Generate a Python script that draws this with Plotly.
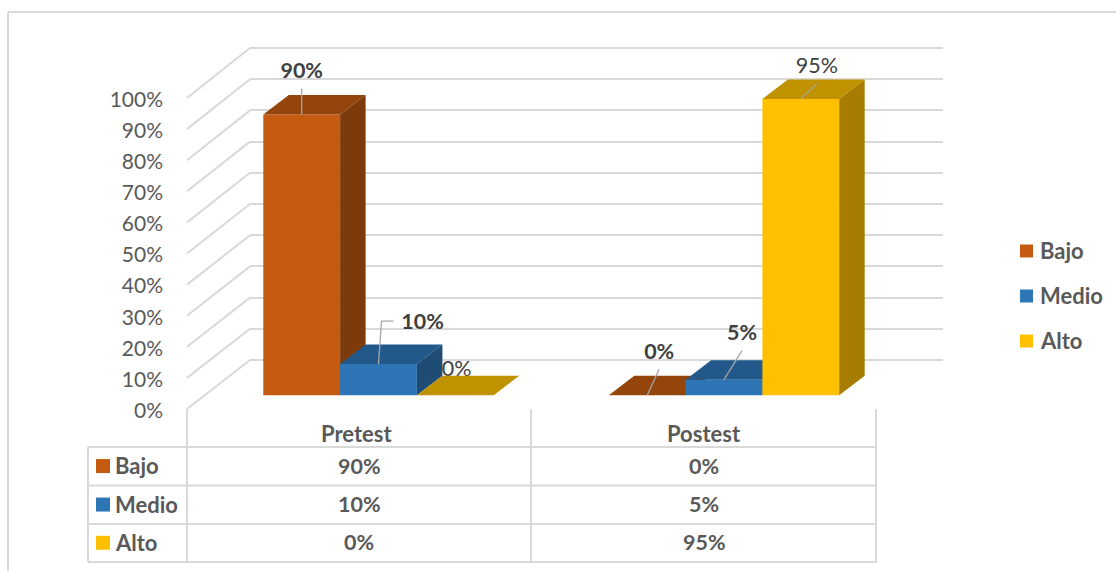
import plotly.graph_objects as go

# ---- data ----
categories = ["Pretest", "Postest"]
series_names = ["Bajo", "Medio", "Alto"]
bajo = [90, 0]
medio = [10, 5]
alto = [0, 95]
axis_ticks = [0, 10, 20, 30, 40, 50, 60, 70, 80, 90, 100]

# ---- styles ----
W, H = 1116, 571
FONT = "Lato"
GRID = "#D9D9D9"
LABEL = "#404040"
TEXT = "#595959"
front = ["#C55A11", "#2E75B6", "#FFC000"]
top_c = ["#93450C", "#22598A", "#C19200"]
side_c = ["#7D3A0A", "#1E4C75", "#A67D00"]
series = [bajo, medio, alto]

PX_PER_GROUP = 345.5
GROUP0_PX = 378.5
PX_PER_PCT = 3.12
BASE_PX = 395.3
BAR_W = 76.8 / PX_PER_GROUP
DX = 25.5 / PX_PER_GROUP
DY = 19.5 / PX_PER_PCT
LABEL_SIZE = 21.5
NAME_SIZE = 22

def px(x):
    return x / W

def py(y):
    return 1 - y / H

def val_range(zero_px, scale):
    return [(zero_px - H) / scale, zero_px / scale]

x_bar_range = [(0 - GROUP0_PX) / PX_PER_GROUP, (W - GROUP0_PX) / PX_PER_GROUP]
y_bar_range = val_range(BASE_PX, PX_PER_PCT)

fig = go.Figure()

# back-wall gridlines subplot (drawn first)
fig.add_trace(go.Scatter(x=[0], y=[0], mode="markers", marker=dict(opacity=0),
                         xaxis="x", yaxis="y", showlegend=False, hoverinfo="skip"))
# tick-label axis
fig.add_trace(go.Scatter(x=[0], y=[0], mode="markers", marker=dict(opacity=0),
                         xaxis="x", yaxis="y5", showlegend=False, hoverinfo="skip"))

for s, (name, vals) in enumerate(zip(series_names, series)):
    ax = s + 2
    xa, ya = f"x{ax}", f"y{ax}"
    off = (s - 1.5) * BAR_W
    tops_x, tops_y, sides_x, sides_y = [], [], [], []
    for i, v in enumerate(vals):
        l = i + off
        r = l + BAR_W
        tops_x += [l, r, r + DX, l + DX, l, None]
        tops_y += [v, v, v + DY, v + DY, v, None]
        sides_x += [r, r + DX, r + DX, r, r, None]
        sides_y += [0, DY, v + DY, v, 0, None]
    fig.add_trace(go.Bar(x=list(range(len(vals))), y=vals, width=BAR_W, offset=off,
                         marker=dict(color=front[s], line=dict(width=0)), name=name,
                         xaxis=xa, yaxis=ya, showlegend=False))
    fig.add_trace(go.Scatter(x=tops_x, y=tops_y, mode="lines", fill="toself",
                             fillcolor=top_c[s], line=dict(width=0, color=top_c[s]),
                             xaxis=xa, yaxis=ya, showlegend=False, hoverinfo="skip"))
    fig.add_trace(go.Scatter(x=sides_x, y=sides_y, mode="lines", fill="toself",
                             fillcolor=side_c[s], line=dict(width=0, color=side_c[s]),
                             xaxis=xa, yaxis=ya, showlegend=False, hoverinfo="skip"))
    if s == 0:
        # the Pretest "Alto" label sits behind the Medio block, as in the reference
        fig.add_trace(go.Scatter(x=[0 + 0.5 * BAR_W + 0.115], y=[alto[0] + 8.0], mode="text",
                                 text=[f"{alto[0]}%"], textposition="middle center",
                                 textfont=dict(family=FONT, size=LABEL_SIZE, color=LABEL),
                                 xaxis=xa, yaxis=ya, showlegend=False, hoverinfo="skip"))

# data labels and their leader lines: offsets (px) from each bar's top-front centre
label_spec = [
    (0, 0, 0, -42, True, [(0, 0), (0, -26)]),
    (1, 0, 44, -40, True, [(0, 0), (3, -43), (15, -43)]),
    (0, 1, 12, -42, True, [(0, 0), (12, -26)]),
    (1, 1, 18, -45, True, [(0, 0), (18, -29)]),
    (2, 1, 16, -31.5, False, [(0, 0), (16, -15)]),
]
LAST = "4"
for s, i, lx, ly, bold, path in label_spec:
    v = series[s][i]
    cx = i + (s - 1.5) * BAR_W + BAR_W / 2
    lead_x = [cx + p[0] / PX_PER_GROUP for p in path]
    lead_y = [v - p[1] / PX_PER_PCT for p in path]
    fig.add_trace(go.Scatter(x=lead_x, y=lead_y, mode="lines",
                             line=dict(color="#A6A6A6", width=1.3),
                             xaxis="x" + LAST, yaxis="y" + LAST, showlegend=False, hoverinfo="skip"))
    fig.add_trace(go.Scatter(x=[cx + lx / PX_PER_GROUP], y=[v - ly / PX_PER_PCT], mode="text",
                             text=[f"<b>{v}%</b>" if bold else f"{v}%"],
                             textposition="middle center",
                             textfont=dict(family=FONT, size=LABEL_SIZE, color=LABEL),
                             xaxis="x" + LAST, yaxis="y" + LAST, showlegend=False, hoverinfo="skip"))

shapes, annotations = [], []

def line(x0, y0, x1, y1, w=2):
    shapes.append(dict(type="line", xref="paper", yref="paper", x0=px(x0), y0=py(y0),
                       x1=px(x1), y1=py(y1), line=dict(color=GRID, width=w), layer="below"))

def square(x0, y0, size, color):
    shapes.append(dict(type="rect", xref="paper", yref="paper", x0=px(x0), y0=py(y0),
                       x1=px(x0 + size), y1=py(y0 + size), fillcolor=color,
                       line=dict(width=0), layer="above"))

def text(x, y, s, anchor="center", size=LABEL_SIZE):
    annotations.append(dict(xref="paper", yref="paper", x=px(x), y=py(y), showarrow=False,
                            text=f"<b>{s}</b>", xanchor=anchor, yanchor="middle",
                            font=dict(family=FONT, size=size, color=TEXT)))

# outer frame
line(8, 12, W, 12)
line(8, 12, 8, H)

# left wall
for t in axis_ticks:
    line(187, 409 - 3.11 * t, 250, 360 - PX_PER_PCT * t)

# data table
COL_X = [187, 531, 876]
ROW_Y = [447, 485.5, 524, 562]
for y in ROW_Y:
    line(88, y, 877, y)
line(88, 447, 88, 562)
for x in COL_X:
    line(x, 409, x, 562)
COL_MID = [359, 704]
HEAD_MID = [356.5, 704]
for c, name in enumerate(categories):
    text(HEAD_MID[c], 433, name, size=NAME_SIZE)
for s, name in enumerate(series_names):
    y_mid = (ROW_Y[s] + ROW_Y[s + 1]) / 2 - 0.7
    square(96, y_mid - 6.5, 14, front[s])
    text(113, y_mid, name, anchor="left", size=NAME_SIZE)
    for c in range(len(categories)):
        text(COL_MID[c], y_mid, f"{series[s][c]}%")

# legend
LEG_Y = [251, 296, 341]
for s, name in enumerate(series_names):
    square(1020, LEG_Y[s] - 6.5, 13, front[s])
    text(1038, LEG_Y[s] - 0.5, name, anchor="left", size=NAME_SIZE)

hidden = dict(visible=False, showgrid=False, zeroline=False, fixedrange=True)
layout = dict(
    width=W, height=H, margin=dict(l=0, r=0, t=0, b=0), autosize=False,
    paper_bgcolor="white", plot_bgcolor="rgba(0,0,0,0)", barmode="overlay",
    showlegend=False, shapes=shapes, annotations=annotations,
    xaxis=dict(domain=[px(250), px(943)], range=[0, 1], **hidden),
    yaxis=dict(domain=[0, 1], range=val_range(360, PX_PER_PCT), tickvals=axis_ticks,
               showgrid=True, gridcolor=GRID, gridwidth=2, zeroline=False,
               showticklabels=False, showline=False, ticks="", fixedrange=True),
    yaxis5=dict(overlaying="y", anchor="free", position=px(163), side="left",
                range=val_range(410.5, 3.11), tickvals=axis_ticks,
                ticktext=[f"{t}%" for t in axis_ticks], showgrid=False, zeroline=False,
                showline=False, ticks="", tickfont=dict(family=FONT, size=21, color=TEXT),
                fixedrange=True),
)
for ax in (2, 3, 4):
    layout[f"xaxis{ax}"] = dict(domain=[0, 1], range=x_bar_range, anchor=f"y{ax}", **hidden)
    layout[f"yaxis{ax}"] = dict(domain=[0, 1], range=y_bar_range, anchor=f"x{ax}", **hidden)
fig.update_layout(**layout)

fig.write_html("out.html", config=dict(displayModeBar=False),
               post_script="document.body.style.margin='0';document.body.style.overflow='hidden';")
